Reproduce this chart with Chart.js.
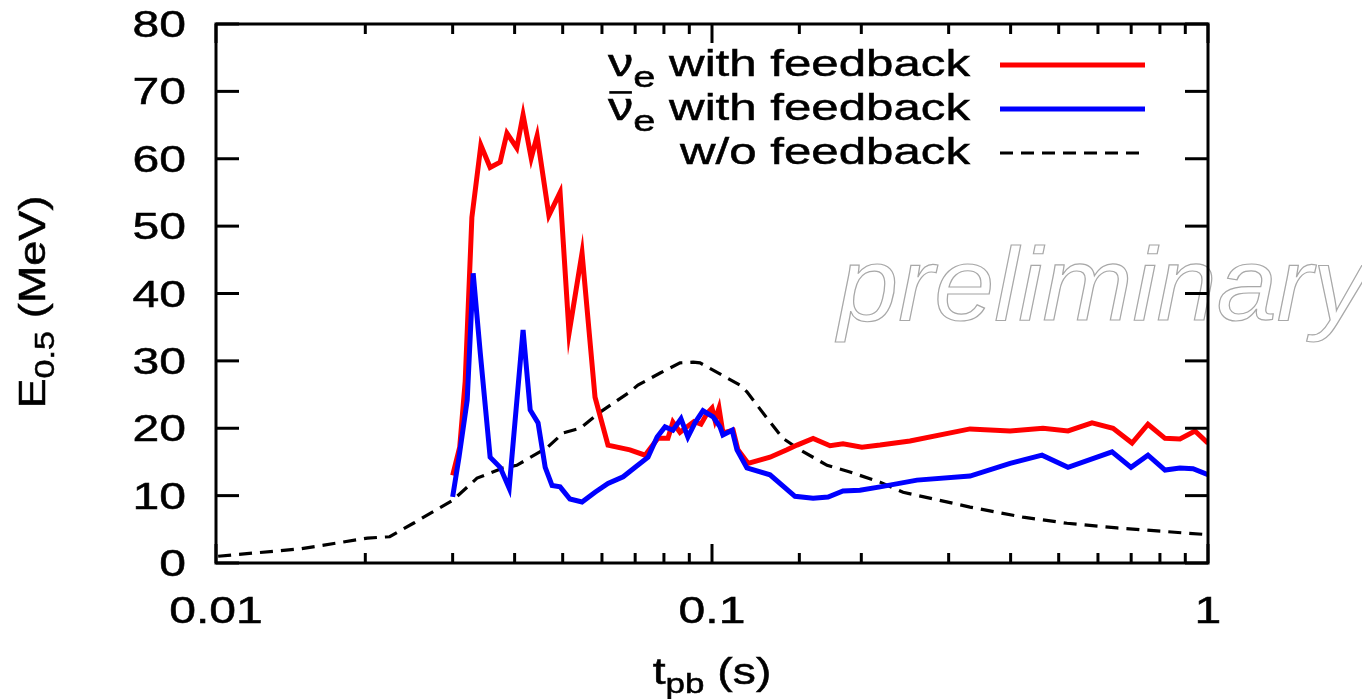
<!DOCTYPE html>
<html>
<head>
<meta charset="utf-8">
<script src="https://cdn.jsdelivr.net/npm/chart.js@4"></script>
<style>
  html, body { margin: 0; padding: 0; background: #fff; }
  #wrap { width: 1362px; height: 699px; }
</style>
</head>
<body>
<div id="wrap"><canvas id="chart"></canvas></div>
<script>
// E_0.5 vs post-bounce time
const timeRed = [0.0300, 0.0310, 0.0318, 0.0328, 0.0342, 0.0357, 0.0374, 0.0386, 0.0404, 0.0416,
  0.0432, 0.0444, 0.0469, 0.0494, 0.0515, 0.0547, 0.0581, 0.0617, 0.0683, 0.0733,
  0.0778, 0.0815, 0.0834, 0.0862, 0.0890, 0.0920, 0.0950, 0.0977, 0.1000, 0.1014,
  0.1033, 0.1052, 0.1103, 0.1128, 0.1182, 0.1309, 0.1416, 0.1484, 0.1599, 0.1730,
  0.1837, 0.2006, 0.2182, 0.2507, 0.3313, 0.3990, 0.4649, 0.5221, 0.5837, 0.6435,
  0.7029, 0.7568, 0.8191, 0.8779, 0.9414, 1.0];
const eRed = [13.0, 17.2, 27.0, 51.3, 62.0, 58.7, 59.5, 63.8, 61.6, 66.5,
  60.1, 63.4, 51.6, 55.0, 34.1, 46.0, 24.6, 17.5, 16.8, 16.0,
  18.5, 18.5, 20.9, 19.4, 20.2, 21.0, 20.6, 22.2, 23.0, 21.2,
  23.0, 19.3, 19.7, 16.8, 14.8, 15.7, 16.8, 17.5, 18.5, 17.4,
  17.7, 17.2, 17.5, 18.1, 19.9, 19.6, 20.0, 19.6, 20.8, 20.0,
  17.8, 20.6, 18.5, 18.4, 19.6, 17.8];

const timeBlue = [0.0300, 0.0309, 0.0321, 0.0330, 0.0341, 0.0357, 0.0374, 0.0390, 0.0416, 0.0430,
  0.0446, 0.0461, 0.0476, 0.0494, 0.0517, 0.0547, 0.0581, 0.0617, 0.0662, 0.0700,
  0.0743, 0.0775, 0.0804, 0.0834, 0.0866, 0.0894, 0.0924, 0.0959, 0.1005, 0.1038,
  0.1052, 0.1098, 0.1123, 0.1176, 0.1309, 0.1470, 0.1599, 0.1714, 0.1837, 0.1987,
  0.2182, 0.2590, 0.3313, 0.3990, 0.4628, 0.5221, 0.6405, 0.6996, 0.7568, 0.8191,
  0.8779, 0.9328, 1.0];
const eBlue = [9.8, 15.7, 24.2, 43.0, 31.2, 15.7, 14.2, 11.1, 34.6, 22.7,
  20.8, 14.2, 11.5, 11.3, 9.5, 9.05, 10.5, 11.8, 12.8, 14.2,
  15.7, 18.7, 20.2, 19.7, 21.4, 18.7, 20.8, 22.6, 21.7, 20.2,
  19.0, 19.7, 16.8, 14.1, 13.1, 9.9, 9.6, 9.8, 10.7, 10.8,
  11.3, 12.3, 12.9, 14.8, 16.0, 14.2, 16.5, 14.2, 16.0, 13.8,
  14.1, 14.0, 13.1];

const timeNoFb = [0.0101, 0.0148, 0.0202, 0.0224, 0.0250, 0.0300, 0.0336, 0.0379, 0.0404, 0.0465,
  0.0501, 0.0542, 0.0595, 0.0683, 0.0709, 0.0786, 0.0862, 0.0916, 0.0946, 0.1139,
  0.1176, 0.1291, 0.1390, 0.1505, 0.1706, 0.1897, 0.2182, 0.2428, 0.3313, 0.4237,
  0.5197, 0.6554, 1.0];
const eNoFb = [1.0, 2.1, 3.7, 3.9, 5.9, 9.3, 12.6, 14.1, 14.5, 17.1,
  19.3, 20.0, 22.4, 25.4, 26.4, 28.2, 29.7, 29.8, 29.7, 26.4,
  25.4, 21.5, 18.5, 16.8, 14.5, 13.5, 12.0, 10.5, 8.3, 6.8,
  5.9, 5.2, 4.2];

const xMajorTicks = [0.01, 0.1, 1];
const xTickLabels = ['0.01', '0.1', '1'];

const FONT = '"Liberation Sans", Arial, sans-serif';

function pts(xs, ys) { return xs.map((v, i) => ({ x: v, y: ys[i] })); }

// draw a row of text runs (for subscripts), stretched horizontally by sx
function drawRuns(ctx, runs, x, y, align, sx, angle) {
  ctx.save();
  ctx.translate(x, y);
  if (angle) ctx.rotate(angle);
  ctx.scale(sx, 1);
  let total = 0;
  runs.forEach(r => { ctx.font = r.size + 'px ' + FONT; r.w = ctx.measureText(r.t).width; total += r.w; });
  let cx = align === 'right' ? -total : align === 'center' ? -total / 2 : 0;
  ctx.fillStyle = '#000';
  ctx.strokeStyle = '#000';
  ctx.lineWidth = 0.5;
  ctx.textBaseline = 'alphabetic';
  runs.forEach(r => {
    ctx.font = r.size + 'px ' + FONT;
    ctx.fillText(r.t, cx, r.dy || 0);
    ctx.strokeText(r.t, cx, r.dy || 0);
    if (r.bar) ctx.fillRect(cx + 1, -r.size * 0.76, r.w - 2, 2.6);
    cx += r.w;
  });
  ctx.restore();
}

function line(ctx, x1, y1, x2, y2) {
  ctx.beginPath(); ctx.moveTo(x1, y1); ctx.lineTo(x2, y2); ctx.stroke();
}

const legendRows = [
  { runs: [{ t: 'ν', size: 38 }, { t: 'e', size: 30, dy: 11 }, { t: ' with feedback', size: 37 }], color: '#ff0000', width: 5, dash: [], y: 76 },
  { runs: [{ t: 'ν', size: 38, bar: true }, { t: 'e', size: 30, dy: 11 }, { t: ' with feedback', size: 37 }], color: '#0000ff', width: 5, dash: [], y: 120 },
  { runs: [{ t: 'w/o feedback', size: 37 }], color: '#000000', width: 3, dash: [13, 8], y: 164 }
];

const framePlugin = {
  id: 'frame',
  afterDraw(chart) {
    const { ctx, chartArea: a, scales: { x, y } } = chart;

    // watermark
    ctx.save();
    ctx.translate(838, 320);
    ctx.scale(1.04, 1);
    ctx.font = 'italic 104px ' + FONT;
    ctx.strokeStyle = '#a8a8a8';
    ctx.lineWidth = 1.2;
    ctx.strokeText('preliminary', 0, 0);
    ctx.restore();

    // box and inward ticks
    ctx.save();
    ctx.strokeStyle = '#000';
    ctx.lineWidth = 3;
    ctx.strokeRect(a.left, a.top, a.right - a.left, a.bottom - a.top);
    y.ticks.forEach(t => {
      const py = y.getPixelForValue(t.value);
      line(ctx, a.left, py, a.left + 23, py);
      line(ctx, a.right, py, a.right - 23, py);
    });
    x.ticks.forEach(t => {
      const px = x.getPixelForValue(t.value);
      const lg = Math.log10(t.value);
      const len = Math.abs(lg - Math.round(lg)) < 1e-6 ? 19 : 10;
      line(ctx, px, a.bottom, px, a.bottom - len);
      line(ctx, px, a.top, px, a.top + len);
    });
    ctx.restore();

    // tick labels
    y.ticks.forEach(t => {
      drawRuns(ctx, [{ t: String(t.value), size: 37 }], 186, y.getPixelForValue(t.value) + 13, 'right', 1.3);
    });
    xMajorTicks.forEach((v, i) => {
      drawRuns(ctx, [{ t: xTickLabels[i], size: 37 }], x.getPixelForValue(v), 623, 'center', 1.3);
    });

    // axis titles
    drawRuns(ctx, [{ t: 't', size: 37 }, { t: 'pb', size: 28, dy: 9 }, { t: ' (s)', size: 37 }], 712, 684, 'center', 1.25);
    drawRuns(ctx, [{ t: 'E', size: 37 }, { t: '0.5', size: 28, dy: 9 }, { t: ' (MeV)', size: 37 }], 45, 302, 'center', 1.22, -Math.PI / 2);

    // legend
    legendRows.forEach(r => {
      drawRuns(ctx, r.runs, 970, r.y, 'right', 1.33);
      ctx.save();
      ctx.strokeStyle = r.color;
      ctx.lineWidth = r.width;
      ctx.setLineDash(r.dash);
      line(ctx, 1000, r.y - 11, 1145, r.y - 11);
      ctx.restore();
    });
  }
};

new Chart(document.getElementById('chart').getContext('2d'), {
  type: 'scatter',
  data: {
    datasets: [
      { label: 'anti-nu_e with feedback', data: pts(timeBlue, eBlue), borderColor: '#0000ff', borderWidth: 5, showLine: true, pointRadius: 0, tension: 0 },
      { label: 'nu_e with feedback', data: pts(timeRed, eRed), borderColor: '#ff0000', borderWidth: 5, showLine: true, pointRadius: 0, tension: 0 },
      { label: 'w/o feedback', data: pts(timeNoFb, eNoFb), borderColor: '#000000', borderWidth: 3.2, borderDash: [13, 8], showLine: true, pointRadius: 0, tension: 0 }
    ]
  },
  options: {
    responsive: true,
    maintainAspectRatio: false,
    animation: false,
    layout: { padding: { top: 24, right: 154, left: 0, bottom: 0 } },
    plugins: { legend: { display: false }, tooltip: { enabled: false } },
    scales: {
      x: {
        type: 'logarithmic', min: 0.01, max: 1,
        grid: { display: false, drawTicks: false },
        border: { display: false },
        ticks: { display: false },
        afterFit: s => { s.height = 136; }
      },
      y: {
        min: 0, max: 80,
        grid: { display: false, drawTicks: false },
        border: { display: false },
        ticks: { display: false, stepSize: 10 },
        afterFit: s => { s.width = 216; }
      }
    }
  },
  plugins: [framePlugin]
});
</script>
</body>
</html>
